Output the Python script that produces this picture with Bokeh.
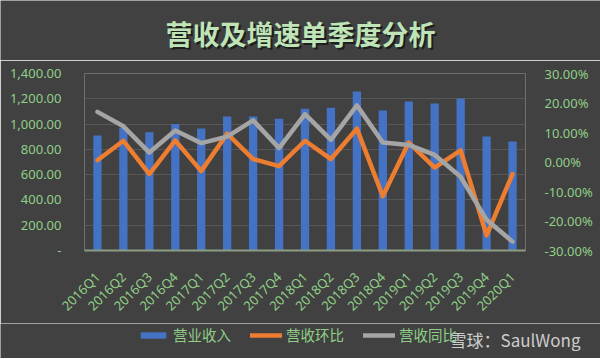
import math
from bokeh.plotting import figure
from bokeh.layouts import column
from bokeh.models import (Range1d, LinearAxis, FixedTicker, NumeralTickFormatter,
                          Legend, LegendItem, ColumnDataSource, Label)
from bokeh.embed import file_html
from bokeh.resources import INLINE

quarters = ["2016Q1", "2016Q2", "2016Q3", "2016Q4", "2017Q1", "2017Q2", "2017Q3", "2017Q4",
            "2018Q1", "2018Q2", "2018Q3", "2018Q4", "2019Q1", "2019Q2", "2019Q3", "2019Q4", "2020Q1"]
revenue = [910, 970, 935, 1000, 965, 1060, 1060, 1043, 1122, 1130, 1257, 1107, 1178, 1162, 1202, 901, 862]
qoq = [0.006, 0.072, -0.041, 0.073, -0.031, 0.096, 0.010, -0.014, 0.072, 0.010, 0.113, -0.116,
       0.066, -0.019, 0.039, -0.249, -0.041]
yoy = [0.170, 0.121, 0.032, 0.107, 0.064, 0.086, 0.141, 0.047, 0.162, 0.075, 0.192, 0.066,
       0.058, 0.024, -0.050, -0.196, -0.270]
left_ticks = [0, 200, 400, 600, 800, 1000, 1200, 1400]
right_ticks = [-0.3, -0.2, -0.1, 0.0, 0.1, 0.2, 0.3]
series_names = ["营业收入", "营收环比", "营收同比"]
title_text = "营收及增速单季度分析"
watermark = "雪球：SaulWong"

BG = "#414141"
GREEN = "#8fcf87"
BLUE, ORANGE, GRAY = "#4472c4", "#ed7d31", "#a5a5a5"
FONT = "Noto Sans"
CJK = "Noto Sans CJK SC"


def no_align(f):
    if "frame_align" in f.properties():
        f.frame_align = False
    return f


def blank(height):
    f = figure(width=600, height=height, x_range=Range1d(0, 600), y_range=Range1d(0, height),
               output_backend="svg", toolbar_location=None, min_border=0,
               x_axis_location=None, y_axis_location=None,
               background_fill_color=BG, border_fill_color=BG, outline_line_color=None)
    f.xgrid.grid_line_color = None
    f.ygrid.grid_line_color = None
    return no_align(f)


# ---- title strip
tf = blank(60)
for dx, dy, col in [(2, -2, "#1e1e1e"), (0, 0, "#bfe4b8")]:
    tf.add_layout(Label(x=300, y=27, text=title_text, text_align="center", text_baseline="middle",
                        text_font=CJK, text_font_size="27px", text_font_style="bold",
                        text_color=col, x_offset=dx, y_offset=dy))

# ---- main chart
src = ColumnDataSource(dict(q=quarters, rev=revenue, qoq=qoq, yoy=yoy))
p = figure(frame_width=441, frame_height=177, x_range=quarters, y_range=Range1d(0, 1400),
           output_backend="svg", toolbar_location=None,
           min_border_left=84, min_border_right=75, min_border_top=13, min_border_bottom=0,
           background_fill_color=BG, border_fill_color=BG, outline_line_color=None)
no_align(p)
p.extra_y_ranges = {"pct": Range1d(-0.3, 0.3)}

p.xgrid.grid_line_color = None
p.ygrid.grid_line_color = "#575757"
p.ygrid.ticker = FixedTicker(ticks=left_ticks)

ya = p.yaxis[0]
ya.ticker = FixedTicker(ticks=left_ticks)
ya.formatter = NumeralTickFormatter(format="0,0.00")
ya.major_label_overrides = {0: "-"}
ya.axis_line_color = None
ya.major_tick_line_color = None
ya.minor_tick_line_color = None
ya.major_label_standoff = 17
ya.major_label_text_color = GREEN
ya.major_label_text_font = FONT
ya.major_label_text_font_size = "13px"

ra = LinearAxis(y_range_name="pct", ticker=FixedTicker(ticks=right_ticks),
                formatter=NumeralTickFormatter(format="0.00%"))
ra.axis_line_color = None
ra.major_tick_line_color = None
ra.minor_tick_line_color = None
ra.major_label_standoff = 13
ra.major_label_text_color = GREEN
ra.major_label_text_font = FONT
ra.major_label_text_font_size = "13px"
p.add_layout(ra, "right")

xa = p.xaxis[0]
xa.axis_line_color = "#8a9d84"
xa.axis_line_width = 2
xa.major_tick_line_color = None
xa.minor_tick_line_color = None
xa.major_label_orientation = math.pi / 4
xa.major_label_standoff = 18
xa.major_label_text_color = GREEN
xa.major_label_text_font = FONT
xa.major_label_text_font_size = "13px"

p.vbar(x="q", top="rev", width=0.32, source=src, fill_color=BLUE, line_color=None)
p.line(x="q", y="qoq", source=src, y_range_name="pct", line_color=ORANGE,
       line_width=4.5, line_join="round", line_cap="round")
p.line(x="q", y="yoy", source=src, y_range_name="pct", line_color=GRAY,
       line_width=4.5, line_join="round", line_cap="round")

# ---- legend strip (legend keys are proxies that lie outside the strip's visible range)
LH = 35
lf = blank(LH)
proxy = ColumnDataSource(dict(x=[-20, -10], y=[-20, -20]))
r1 = lf.vbar(x="x", top="y", bottom=-30, width=1, source=proxy, fill_color=BLUE, line_color=None)
r2 = lf.line(x="x", y="y", source=proxy, line_color=ORANGE, line_width=4.5, line_cap="round")
r3 = lf.line(x="x", y="y", source=proxy, line_color=GRAY, line_width=4.5, line_cap="round")
legend = Legend(items=[LegendItem(label=series_names[0], renderers=[r1]),
                       LegendItem(label=series_names[1], renderers=[r2]),
                       LegendItem(label=series_names[2], renderers=[r3])],
                orientation="horizontal", location=(137, 13),
                background_fill_alpha=0, border_line_color=None,
                label_text_color=GREEN, label_text_font=CJK, label_text_font_size="14.5px",
                glyph_width=32, glyph_height=8, label_standoff=4, spacing=19,
                padding=0, margin=0)
lf.add_layout(legend, "center")
lf.add_layout(Label(x=449, y=19, text=watermark, text_align="left", text_baseline="middle",
                    text_font=CJK, text_font_size="17px", text_color="#e6e6e6", text_alpha=0.85))

layout = column(tf, p, lf, spacing=0)
open("out.html", "w").write(file_html(layout, INLINE))
